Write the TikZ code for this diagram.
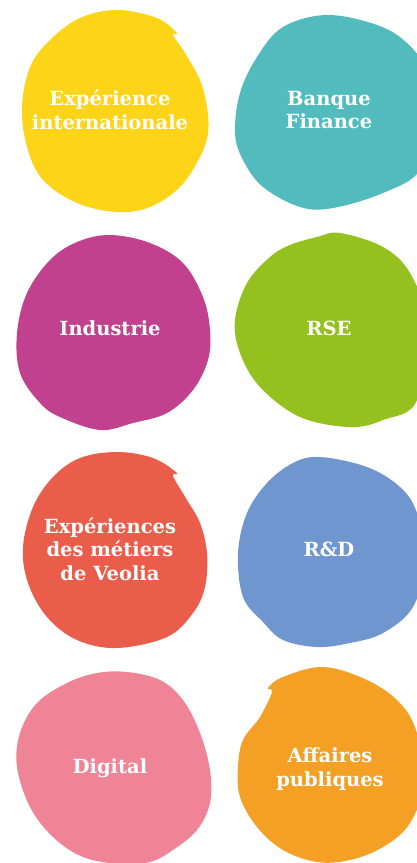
\documentclass[tikz,border=0pt]{standalone}
\usepackage{fontspec}
\newfontfamily\slab{DejaVu Serif}
\definecolor{cyellow}{HTML}{FDD418}
\definecolor{cteal}{HTML}{52BBBE}
\definecolor{cmagenta}{HTML}{C1418E}
\definecolor{cgreen}{HTML}{95C11F}
\definecolor{cred}{HTML}{EA5D4A}
\definecolor{cblue}{HTML}{7096CF}
\definecolor{cpink}{HTML}{EF8496}
\definecolor{corange}{HTML}{F4A024}
\begin{document}
\begin{tikzpicture}[x=1pt,y=-1pt,
  lbl/.style={text=white, align=center, font=\slab\bfseries\fontsize{19.5}{23.5}\selectfont, inner sep=0pt}]
\useasboundingbox (0,0) rectangle (417,863);
\begin{scope}
\clip (0,0) rectangle (417,863);
% yellow
\fill[cyellow] plot[smooth cycle, tension=0.6] coordinates {(117,10) (157,18) (177,33) (173,35) (185,53) (200,80) (207,107) (208,133) (200,157) (180,187) (150,207) (117,212) (77,203) (43,180) (27,147) (22,107) (30,67) (50,40) (80,18)};
% teal
\fill[cteal] plot[smooth cycle, tension=0.6] coordinates {(327,15) (377,25) (407,43) (425,70) (430,120) (420,170) (383,193) (333,208) (300,207) (263,187) (243,160) (235,133) (240,93) (257,57) (283,27)};
% magenta
\fill[cmagenta] plot[smooth cycle, tension=0.6] coordinates {(110,235) (150,243) (183,263) (203,297) (210,330) (208,360) (193,390) (167,413) (133,423) (100,430) (60,417) (40,403) (20,373) (17,333) (27,293) (50,260) (77,242)};
% green
\fill[cgreen] plot[smooth cycle, tension=0.6] coordinates {(340,233) (383,247) (410,273) (425,320) (417,400) (383,420) (350,427) (300,417) (260,387) (240,353) (235,320) (247,283) (270,257) (290,245) (317,237)};
% red
\fill[cred] plot[smooth cycle, tension=0.6] coordinates {(117,452) (153,458) (177,473) (173,476) (187,500) (200,523) (207,553) (205,587) (193,613) (167,637) (117,648) (77,640) (47,617) (28,583) (23,547) (33,507) (53,477) (80,458)};
% blue
\fill[cblue] plot[smooth cycle, tension=0.6] coordinates {(320,457) (367,467) (400,487) (417,513) (425,560) (413,607) (383,633) (350,643) (317,647) (283,640) (263,622) (243,597) (238,553) (247,513) (267,483) (293,463)};
% pink
\fill[cpink] plot[smooth cycle, tension=0.6] coordinates {(127,672) (160,680) (183,700) (200,733) (210,770) (210,803) (197,830) (173,850) (150,862) (120,864) (83,857) (53,837) (30,807) (17,767) (20,733) (37,703) (67,683) (97,673)};
% orange
\fill[corange] plot[smooth cycle, tension=0.6] coordinates {(323,667) (367,680) (400,703) (417,733) (425,780) (410,823) (383,847) (350,860) (317,862) (283,850) (257,827) (240,797) (238,767) (243,740) (260,717) (272,692) (268,688) (283,677)};
\end{scope}
\node[lbl] (t1) at (110,110) {Expérience\\internationale};
\node[lbl] (t2) at (329,110) {Banque\\Finance};
\node[lbl] (t3) at (110,328) {Industrie};
\node[lbl] (t4) at (329,328) {RSE};
\node[lbl] (t5) at (110,549) {Expériences\\des métiers\\de Veolia};
\node[lbl] (t6) at (329,549) {R\&D};
\node[lbl] (t7) at (110,768) {Digital};
\node[lbl] (t8) at (330,769) {Affaires\\publiques};
\end{tikzpicture}
\end{document}
